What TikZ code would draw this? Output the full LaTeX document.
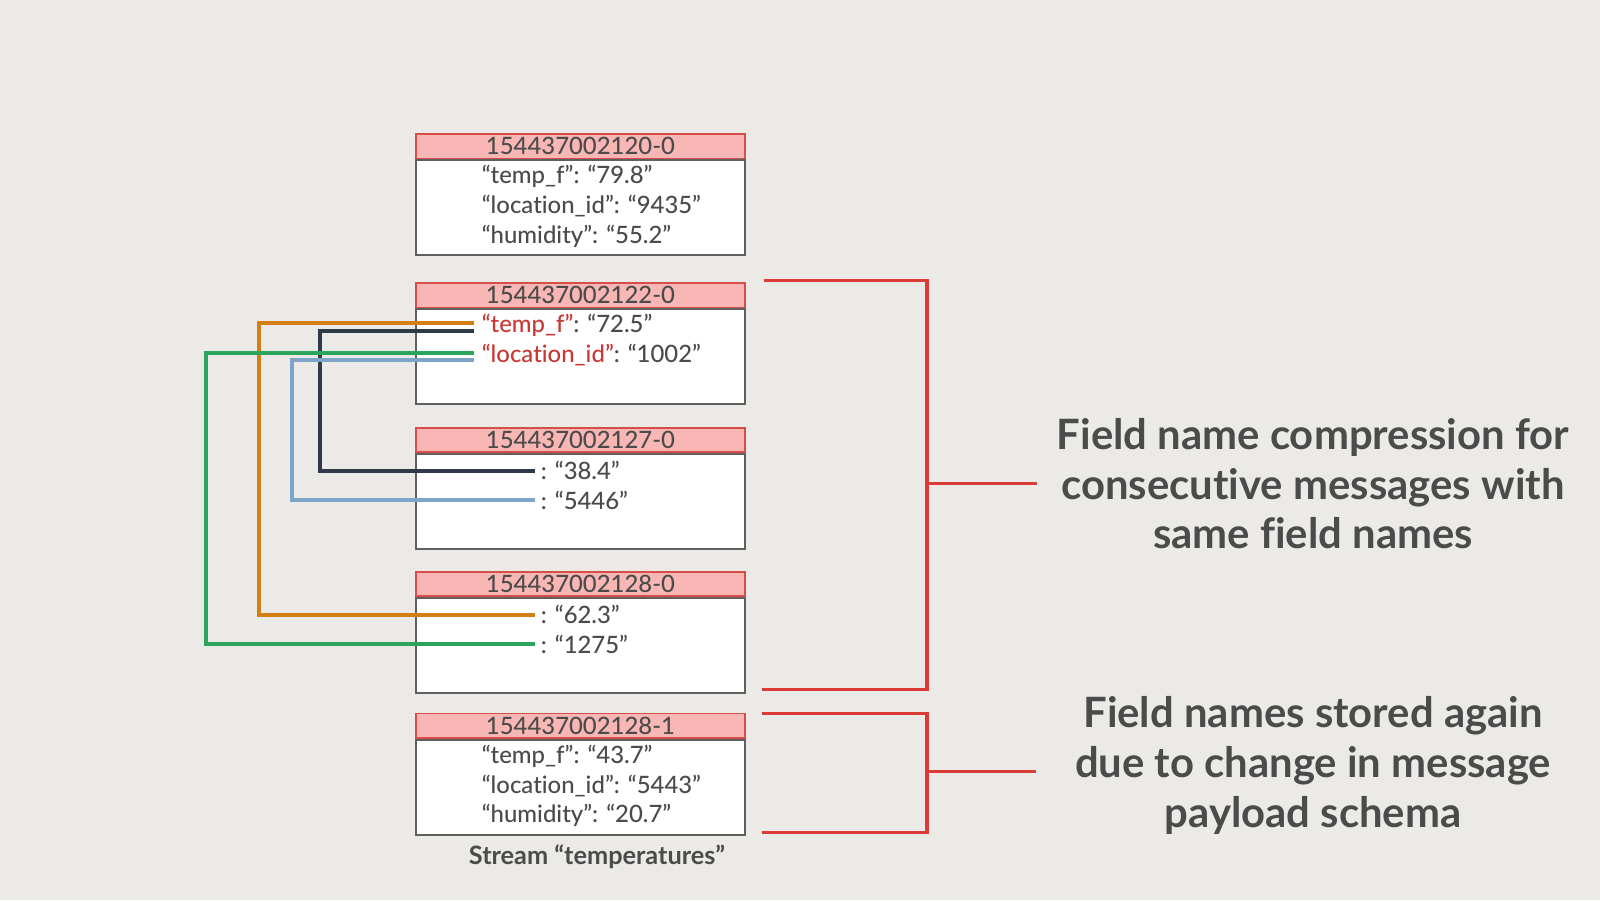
\documentclass[tikz,border=0pt]{standalone}
\usepackage{fontspec}
\setmainfont{Lato}[Ligatures=NoCommon]
\newfontfamily\msgfont{Lato Medium}[Ligatures=NoCommon]
\usetikzlibrary{positioning}

\definecolor{paper}{RGB}{236,234,230}
\definecolor{ink}{RGB}{75,75,75}
\definecolor{headpink}{RGB}{248,182,180}
\definecolor{headred}{RGB}{214,78,74}
\definecolor{boxgray}{RGB}{95,95,95}
\definecolor{fred}{RGB}{200,56,52}
\definecolor{brack}{RGB}{220,60,55}
\definecolor{corange}{RGB}{212,126,22}
\definecolor{cnavy}{RGB}{46,58,72}
\definecolor{cgreen}{RGB}{44,164,92}
\definecolor{cblue}{RGB}{126,164,202}

\tikzset{
  msghead/.style={draw=headred, fill=headpink, line width=0.5pt, minimum width=3.29cm,
    minimum height=0.245cm, inner sep=0pt, text=ink, font=\msgfont\fontsize{6.8}{8}\selectfont},
  msgbody/.style={draw=boxgray, fill=white, line width=0.5pt, minimum width=3.29cm,
    minimum height=0.95cm, inner sep=0pt},
  fld/.style={inner sep=0pt, anchor=west, text=ink, font=\msgfont\fontsize{6.8}{8}\selectfont},
  link/.style={line width=1.1pt},
  brace/.style={draw=brack, line width=0.9pt},
  note/.style={align=center, text=ink, font=\fontsize{11.9}{14.2}\selectfont\bfseries}
}

\begin{document}
\begin{tikzpicture}
  \fill[paper] (0,0) rectangle (16,9);

  % messages of the stream
  \node[msgbody] (b1) at (5.805,6.923) {};
  \node[msghead, above=0pt of b1] (h1) {154437002120-0};
  \node[msgbody] (b2) at (5.805,5.433) {};
  \node[msghead, above=0pt of b2] (h2) {154437002122-0};
  \node[msgbody] (b3) at (5.805,3.984) {};
  \node[msghead, above=0pt of b3] (h3) {154437002127-0};
  \node[msgbody] (b4) at (5.805,2.545) {};
  \node[msghead, above=0pt of b4] (h4) {154437002128-0};
  \node[msgbody] (b5) at (5.805,1.127) {};
  \node[msghead, above=0pt of b5] (h5) {154437002128-1};

  % fields
  \node[fld] (f1a) at ([xshift=0.66cm,yshift=-0.175cm]h1.south west) {“temp\_f”: “79.8”};
  \node[fld] (f1b) at ([yshift=-0.296cm]f1a.west) {“location\_id”: “9435”};
  \node[fld] (f1c) at ([yshift=-0.296cm]f1b.west) {“humidity”: “55.2”};

  \node[fld] (f2a) at ([xshift=0.66cm,yshift=-0.175cm]h2.south west) {{\color{fred}“temp\_f”}: “72.5”};
  \node[fld] (f2b) at ([yshift=-0.296cm]f2a.west) {{\color{fred}“location\_id”}: “1002”};

  \node[fld] (v3a) at ([xshift=1.25cm,yshift=-0.175cm]h3.south west) {: “38.4”};
  \node[fld] (v3b) at ([yshift=-0.296cm]v3a.west) {: “5446”};

  \node[fld] (v4a) at ([xshift=1.25cm,yshift=-0.175cm]h4.south west) {: “62.3”};
  \node[fld] (v4b) at ([yshift=-0.296cm]v4a.west) {: “1275”};

  \node[fld] (f5a) at ([xshift=0.66cm,yshift=-0.175cm]h5.south west) {“temp\_f”: “43.7”};
  \node[fld] (f5b) at ([yshift=-0.296cm]f5a.west) {“location\_id”: “5443”};
  \node[fld] (f5c) at ([yshift=-0.296cm]f5b.west) {“humidity”: “20.7”};

  \node[text=ink, font=\fontsize{7.2}{8}\selectfont\bfseries] (cap) at (5.97,0.43)
    {Stream “temperatures”};

  % lanes of the field name links
  \coordinate (lgreen) at (2.06,0);
  \coordinate (lorange) at (2.59,0);
  \coordinate (lblue) at (2.92,0);
  \coordinate (lnavy) at (3.20,0);

  \draw[link, draw=corange] ([shift={(-0.075cm,0.03cm)}]f2a.west) -| (lorange |- v4a.west)
    -- ([xshift=-0.05cm]v4a.west);
  \draw[link, draw=cnavy] ([shift={(-0.075cm,-0.05cm)}]f2a.west) -| (lnavy |- v3a.west)
    -- ([xshift=-0.05cm]v3a.west);
  \draw[link, draw=cgreen] ([shift={(-0.075cm,0.02cm)}]f2b.west) -| (lgreen |- v4b.west)
    -- ([xshift=-0.05cm]v4b.west);
  \draw[link, draw=cblue] ([shift={(-0.075cm,-0.05cm)}]f2b.west) -| (lblue |- v3b.west)
    -- ([xshift=-0.05cm]v3b.west);

  % brackets and notes
  \coordinate (ta) at (7.64,6.194);
  \coordinate (tb) at (7.62,2.102);
  \coordinate (k1) at (9.27,4.163);
  \coordinate (e1) at (10.37,4.163);
  \coordinate (tc) at (7.62,1.867);
  \coordinate (td) at (7.62,0.673);
  \coordinate (k2) at (9.27,1.286);
  \coordinate (e2) at (10.36,1.286);

  \draw[brace] (ta) -| (k1) |- (tb);
  \draw[brace] (k1) -- (e1);
  \draw[brace] (tc) -| (k2) |- (td);
  \draw[brace] (k2) -- (e2);

  \node[note] (n1) at (13.13,4.163)
    {Field name compression for\\consecutive messages with\\same field names};
  \node[note] (n2) at (13.13,1.347)
    {Field names stored again\\due to change in message\\payload schema};
\end{tikzpicture}
\end{document}
